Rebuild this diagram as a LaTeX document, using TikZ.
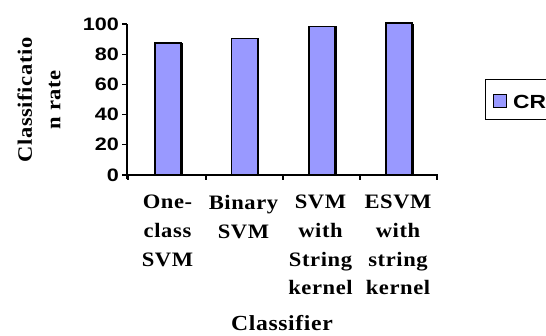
\documentclass[tikz,border=0pt]{standalone}
\usepackage{fontspec}
\usetikzlibrary{shadows}

\newfontfamily\numfont{Liberation Sans}[FakeStretch=1.2]
\newfontfamily\labfont{Liberation Serif}[FakeStretch=1.1,LetterSpace=3]
\definecolor{barblue}{RGB}{153,153,255}

\begin{document}
\begin{tikzpicture}[
    x=1pt, y=1pt,
    % bars and legend
    bar/.style={rectangle, draw, line width=1.2pt, fill=barblue, minimum width=26pt,
        inner sep=0pt, anchor=south,
        drop shadow={shadow xshift=1.6pt, shadow yshift=0pt, fill=black, opacity=1}},
    keybox/.style={rectangle, draw, line width=1pt, fill=barblue, minimum size=13pt, inner sep=0pt},
    legendframe/.style={rectangle, draw, line width=1pt, inner sep=0pt},
    % axes
    axisline/.style={draw, line width=1.3pt},
    zeroline/.style={draw, line width=2.6pt},
    ticklab/.style={font=\numfont\bfseries\fontsize{18}{20}\selectfont, anchor=east, inner sep=0pt},
    catlab/.style={font=\labfont\bfseries\fontsize{20.5}{28.7}\selectfont, align=center,
        anchor=north, inner sep=0pt},
    titlelab/.style={font=\labfont\bfseries\fontsize{21.5}{28.7}\selectfont, align=center, inner sep=0pt},
]
\useasboundingbox (0,0) rectangle (546,335);
\clip (0,0) rectangle (546,335);

% =========================================================
% Axes
% =========================================================
\coordinate (origin) at (127,160);
\coordinate (ybot)   at (127,156);
\coordinate (ytop)   at (127,311);
\coordinate (xend)   at (438,160);

\draw[axisline] (ybot) -- (ytop);

% value ticks
\draw[axisline] (122,160.0) -- (127,160.0)
                (122,190.2) -- (127,190.2)
                (122,220.4) -- (127,220.4)
                (122,250.6) -- (127,250.6)
                (122,280.8) -- (127,280.8)
                (122,311.0) -- (127,311.0);

\node[ticklab] (t0)   at (119,160.0) {0};
\node[ticklab] (t20)  at (119,190.2) {20};
\node[ticklab] (t40)  at (119,220.4) {40};
\node[ticklab] (t60)  at (119,250.6) {60};
\node[ticklab] (t80)  at (119,280.8) {80};
\node[ticklab] (t100) at (119,311.0) {100};

% category ticks
\draw[axisline] (128,160) -- (128,155)
                (206,160) -- (206,155)
                (283,160) -- (283,155)
                (360,160) -- (360,155)
                (437,160) -- (437,155);

% =========================================================
% Bars (1 unit = 1.51pt)
% =========================================================
\node[bar, minimum height=131.4pt] (svmOne) at (168.0,160) {};
\node[bar, minimum height=135.9pt] (svmBin) at (244.5,160) {};
\node[bar, minimum height=148.0pt] (svmStr) at (322.0,160) {};
\node[bar, minimum height=150.5pt] (esvm)   at (399.0,160) {};
\draw[line width=2.4pt] (esvm.north west) -- (esvm.north east);

\draw[zeroline] (origin) -- (xend);

% =========================================================
% Labels
% =========================================================
\node[catlab] (cOne) at (167.5,140) {One-\\class\\SVM};
\node[catlab] (cBin) at (243.5,140) {Binary\\SVM};
\node[catlab] (cStr) at (320.5,140) {SVM\\with\\String\\kernel};
\node[catlab] (cEsv) at (398.0,140) {ESVM\\with\\string\\kernel};

\node[titlelab, anchor=south] (xtitle) at (282,4) {Classifier};
\node[titlelab, rotate=90, font=\labfont\bfseries\fontsize{20.5}{28.7}\selectfont]
    (ytitle) at (39,235) {Classificatio\\n rate};

% legend
\node[legendframe, minimum width=95pt, minimum height=40pt, anchor=south west] (legend) at (485,215) {};
\node[keybox] (key) at (500,233.5) {};
\node[font=\numfont\bfseries\fontsize{19}{22}\selectfont, anchor=west, inner sep=0pt]
    (keytext) at (513,233) {CR};

\end{tikzpicture}
\end{document}
